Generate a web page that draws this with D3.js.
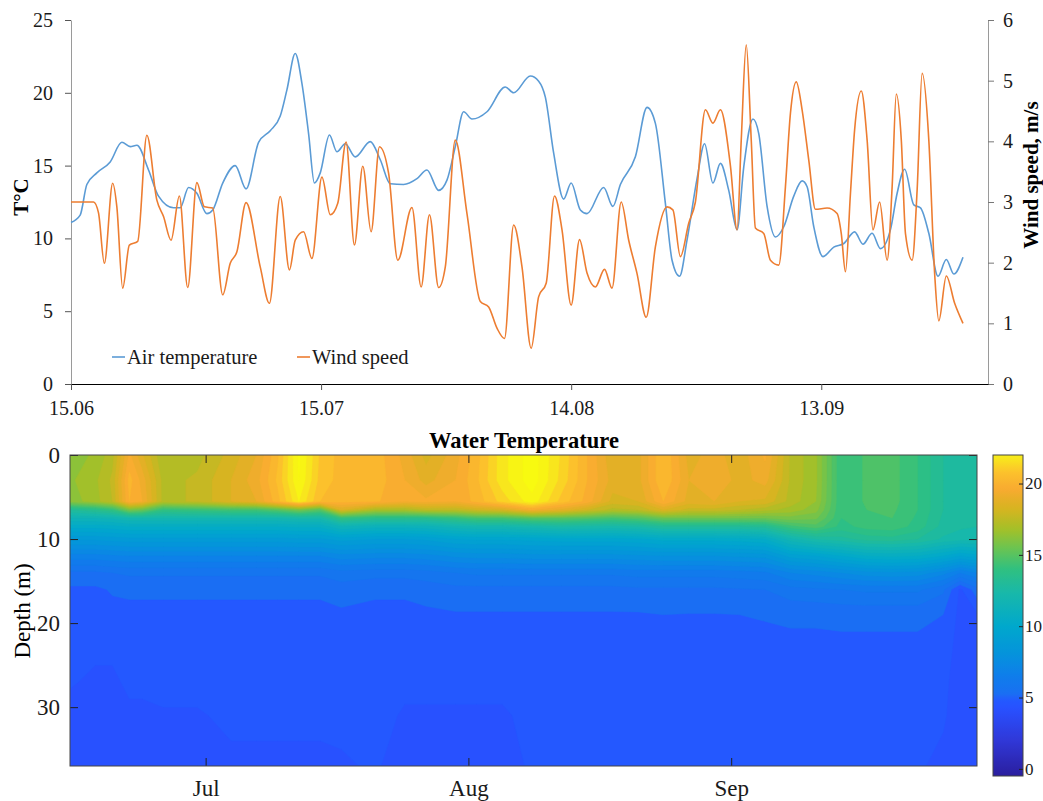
<!DOCTYPE html>
<html>
<head>
<meta charset="utf-8">
<script src="https://cdn.jsdelivr.net/npm/d3@7"></script>
<style>
  body { margin: 0; background: #fff; }
</style>
</head>
<body>
<svg id="chart" width="1043" height="801"></svg>
<script>
// ---- Data (days counted from 15.06) ----
let airDays = [0, 1.1, 1.9, 3.1, 4.7, 6.1, 7.1, 7.9, 9.3, 10.5, 12.3, 13.1, 14.1, 15.1, 16.3, 17, 18.2, 19.7, 21, 22.5,
  23.9, 25.1, 25.9, 26.9, 27.7, 28.5, 29.2, 29.9, 31, 31.9, 32.9, 34.1, 35.9, 37.1, 38.3, 39.9, 41.5, 42.7, 44.1, 45.1,
  46.1, 47.1, 48.1, 49.9, 52.1, 53.1, 55.1, 56.1, 56.9, 57.9, 59.1, 60, 61.1, 61.9, 63.9, 65, 65.9, 67.7, 69.1, 70.1,
  71.3, 72.1, 73, 73.9, 75.1, 76, 77, 77.9, 78.9, 79.9, 80.7, 81.8, 82.5, 83.5, 84.5, 85.5, 86.7, 87.7, 88.3, 89.1,
  90.2, 91.5, 92.7, 94, 95, 96.1, 97.1, 98.3, 99.1, 100, 101.1, 101.9, 102.9, 104, 105, 105.9, 107];
let airTemp = [11.1, 11.6, 13.7, 14.5, 15.25, 16.6, 16.3, 16.4, 14.7, 12.9, 12.1, 12.1, 13.5, 13.1, 11.7, 11.95, 13.8, 15.0, 13.4, 16.6,
  17.4, 18.4, 20.2, 22.7, 20.65, 17.2, 13.8, 14.5, 17.1, 15.95, 16.5, 15.6, 16.65, 15.4, 13.75, 13.7, 14.1, 14.7, 13.3, 14.0,
  16.3, 18.7, 18.2, 18.7, 20.4, 20.0, 21.15, 20.8, 19.7, 15.85, 12.7, 13.8, 11.95, 11.7, 13.5, 12.2, 13.7, 15.6, 19.0, 17.9,
  12.4, 8.5, 7.4, 9.9, 14.1, 16.5, 13.8, 15.15, 13.3, 10.6, 14.9, 18.2, 17.2, 12.2, 10.1, 10.8, 12.9, 13.95, 13.55, 10.8,
  8.75, 9.4, 9.65, 10.45, 9.6, 10.35, 9.3, 10.6, 13.1, 14.75, 12.3, 12.1, 10.35, 7.4, 8.55, 7.55, 8.7];

let windDays = [0, 2.7, 3.3, 4, 5, 5.5, 6.2, 7, 8, 9.1, 10.3, 11.1, 12, 13, 14, 15.1, 16, 17, 18.2, 19.1,
  19.9, 21, 22.7, 23.8, 25.1, 26.2, 26.9, 27.9, 28.9, 30.1, 31.1, 32, 33, 34, 35, 36, 37, 38.1, 39.2, 40.9,
  42, 43, 44.1, 44.9, 46.1, 47.5, 49.1, 50.1, 51.1, 52, 53.1, 54.1, 55.2, 56.1, 57, 58, 58.9, 60, 61, 61.9,
  62.9, 64, 64.9, 66, 66.9, 67.9, 69, 70.1, 71.5, 72.2, 73.1, 74.1, 74.9, 76.1, 77, 77.9, 79.1, 79.9, 80.4, 81,
  81.6, 82.1, 83.1, 83.9, 84.9, 85.7, 86.3, 87, 87.7, 88.5, 89.3, 90.7, 91.9, 92.4, 92.9, 93.5, 94, 94.8, 95.5, 96.2,
  97, 97.9, 98.5, 99, 99.6, 100.1, 100.9, 101.5, 102.1, 102.9, 103.6, 104.1, 105, 106, 107];
let windSpeed = [3.0, 3.0, 2.82, 1.99, 3.31, 2.92, 1.58, 2.29, 2.35, 4.1, 3.03, 2.76, 2.37, 3.1, 1.59, 3.32, 2.92, 2.9, 1.47, 1.99,
  2.18, 2.99, 1.93, 1.33, 3.09, 1.88, 2.37, 2.51, 2.07, 3.41, 2.79, 2.98, 3.99, 2.29, 3.59, 2.51, 3.91, 3.47, 2.04, 2.91,
  1.6, 2.79, 1.59, 1.93, 4.02, 2.81, 1.36, 1.27, 0.92, 0.75, 2.62, 1.93, 0.59, 1.44, 1.66, 3.1, 2.54, 1.3, 2.38, 1.83,
  1.6, 1.89, 1.58, 3.0, 2.37, 1.82, 1.1, 2.26, 2.92, 2.87, 2.1, 2.65, 3.0, 4.52, 4.3, 4.52, 3.6, 2.54, 4.02, 5.59,
  4.02, 2.57, 2.48, 2.04, 1.96, 3.25, 4.46, 4.98, 4.52, 3.69, 2.88, 2.9, 2.81, 2.48, 1.85, 3.14, 4.19, 4.83, 4.02, 2.54,
  3.0, 2.04, 3.25, 4.78, 4.02, 2.48, 2.04, 3.2, 5.12, 4.02, 1.82, 1.04, 1.78, 1.33, 1.0];

let topTickDays = [0, 30, 60, 90];           // 15.06, 15.07, 14.08, 13.09
let tempTicks = [0, 5, 10, 15, 20, 25];
let windTicks = [0, 1, 2, 3, 4, 5, 6];

// water temperature profiles: one profile per sampling day, values at wtDepths
let wtDays = [0, 3, 5, 7, 8.5, 11, 15, 19, 22, 24.5, 27, 29.5, 32, 36, 39.5, 42, 45.5, 48, 51, 54.5,
  58, 61, 64, 67, 70, 73, 76, 79, 82, 85, 88, 91, 94, 97, 100, 103, 105, 107];
let wtDepths = [0, 3, 5.5, 6.5, 7.5, 8.5, 10, 12, 14, 16, 19, 23, 27, 31, 37];
let waterTemp = [
  [16.2, 16.4, 16.2, 13.0, 11.5, 10.2, 8.6, 6.8, 5.4, 4.9, 4.8, 4.75, 4.55, 4.3, 4.3],
  [16.6, 16.9, 16.8, 13.5, 11.5, 10.2, 8.6, 6.8, 5.4, 4.9, 4.8, 4.6, 4.4, 4.3, 4.3],
  [17.3, 17.6, 17.5, 14.0, 11.6, 10.3, 8.7, 6.9, 5.5, 5.05, 4.85, 4.6, 4.4, 4.3, 4.3],
  [19.6, 20.2, 20.0, 15.8, 12.0, 10.5, 8.8, 7.0, 5.6, 5.1, 4.85, 4.7, 4.6, 4.4, 4.3],
  [18.6, 19.3, 19.5, 15.5, 12.0, 10.5, 8.8, 7.0, 5.6, 5.1, 4.85, 4.7, 4.6, 4.4, 4.3],
  [17.0, 17.3, 17.3, 14.0, 12.0, 10.5, 8.8, 7.0, 5.6, 5.1, 4.85, 4.75, 4.65, 4.45, 4.3],
  [17.3, 17.6, 17.6, 14.2, 12.0, 10.5, 8.8, 7.0, 5.6, 5.1, 4.85, 4.75, 4.65, 4.45, 4.3],
  [18.2, 18.5, 18.5, 14.5, 12.0, 10.5, 8.8, 7.0, 5.6, 5.1, 4.85, 4.75, 4.7, 4.6, 4.4],
  [19.0, 19.3, 19.0, 14.5, 12.0, 10.5, 8.8, 7.0, 5.6, 5.1, 4.85, 4.75, 4.7, 4.6, 4.4],
  [20.4, 20.6, 20.3, 15.0, 12.0, 10.5, 8.8, 7.0, 5.6, 5.1, 4.85, 4.75, 4.7, 4.6, 4.4],
  [22.6, 22.5, 22.0, 15.8, 12.2, 10.6, 8.9, 7.0, 5.6, 5.1, 4.85, 4.75, 4.7, 4.6, 4.4],
  [20.9, 20.8, 20.5, 15.0, 12.2, 10.6, 8.9, 7.0, 5.6, 5.1, 4.85, 4.75, 4.7, 4.6, 4.4],
  [20.3, 20.3, 20.2, 18.5, 14.0, 11.5, 9.2, 7.3, 5.8, 5.25, 4.9, 4.75, 4.7, 4.6, 4.45],
  [20.3, 20.3, 20.1, 17.0, 13.5, 11.2, 9.0, 7.2, 5.7, 5.1, 4.85, 4.75, 4.7, 4.65, 4.55],
  [19.3, 19.5, 19.5, 17.0, 13.5, 11.2, 9.0, 7.2, 5.7, 5.1, 4.85, 4.75, 4.6, 4.45, 4.3],
  [18.3, 18.8, 19.6, 17.5, 13.5, 11.3, 9.1, 7.3, 5.8, 5.2, 4.9, 4.75, 4.6, 4.45, 4.3],
  [19.3, 19.5, 19.5, 17.5, 14.0, 11.8, 9.5, 7.6, 6.0, 5.35, 4.95, 4.8, 4.6, 4.45, 4.3],
  [20.3, 20.4, 20.2, 18.0, 14.5, 12.0, 9.6, 7.7, 6.1, 5.35, 4.95, 4.8, 4.6, 4.45, 4.3],
  [21.8, 21.8, 21.2, 18.3, 14.5, 12.0, 9.6, 7.7, 6.1, 5.35, 4.95, 4.8, 4.6, 4.45, 4.35],
  [22.8, 22.8, 22.3, 19.5, 15.0, 12.2, 9.7, 7.8, 6.1, 5.35, 4.95, 4.8, 4.7, 4.6, 4.55],
  [21.4, 21.3, 20.8, 18.8, 15.0, 12.5, 9.8, 7.8, 6.1, 5.35, 4.95, 4.8, 4.7, 4.6, 4.55],
  [20.0, 20.0, 19.8, 18.0, 14.8, 12.4, 9.8, 7.8, 6.1, 5.35, 4.95, 4.8, 4.7, 4.6, 4.55],
  [18.6, 18.8, 18.3, 17.3, 14.5, 12.3, 9.8, 7.8, 6.1, 5.35, 4.95, 4.8, 4.7, 4.6, 4.55],
  [18.8, 18.8, 18.5, 17.5, 14.8, 12.5, 9.9, 7.9, 6.2, 5.4, 4.95, 4.8, 4.7, 4.6, 4.55],
  [20.5, 20.5, 20.0, 18.5, 15.5, 13.0, 10.2, 8.0, 6.2, 5.4, 5.0, 4.8, 4.7, 4.6, 4.55],
  [18.8, 19.0, 18.8, 17.8, 15.5, 13.0, 10.2, 8.0, 6.2, 5.4, 4.98, 4.8, 4.7, 4.6, 4.55],
  [19.2, 19.4, 19.0, 17.8, 15.5, 13.0, 10.2, 8.0, 6.2, 5.4, 4.98, 4.8, 4.7, 4.6, 4.55],
  [18.7, 18.8, 18.5, 17.5, 15.5, 13.0, 10.3, 8.1, 6.3, 5.45, 5.0, 4.8, 4.7, 4.6, 4.55],
  [19.6, 19.2, 18.4, 17.2, 15.5, 13.2, 10.5, 8.2, 6.4, 5.5, 5.05, 4.8, 4.7, 4.6, 4.55],
  [17.4, 17.4, 17.3, 16.8, 15.8, 14.3, 11.8, 9.2, 7.0, 5.8, 5.1, 4.85, 4.7, 4.6, 4.55],
  [16.6, 16.6, 16.5, 16.2, 15.6, 14.8, 12.5, 9.5, 7.2, 5.9, 5.1, 4.85, 4.7, 4.6, 4.55],
  [14.0, 14.0, 14.0, 14.0, 14.0, 13.8, 12.8, 10.0, 7.5, 6.0, 5.15, 4.85, 4.7, 4.6, 4.55],
  [14.6, 14.6, 14.6, 14.5, 14.4, 14.2, 13.2, 10.5, 7.8, 6.1, 5.15, 4.85, 4.7, 4.6, 4.55],
  [14.7, 14.7, 14.7, 14.6, 14.5, 14.3, 13.3, 10.6, 7.9, 6.1, 5.15, 4.85, 4.7, 4.6, 4.55],
  [14.0, 14.0, 14.0, 14.0, 13.9, 13.8, 13.0, 10.5, 7.8, 6.1, 5.15, 4.85, 4.7, 4.6, 4.55],
  [13.0, 13.0, 13.0, 13.0, 12.9, 12.8, 12.4, 10.0, 7.2, 5.6, 5.0, 4.75, 4.6, 4.55, 4.4],
  [12.8, 12.8, 12.8, 12.8, 12.7, 12.6, 12.2, 9.5, 6.5, 4.4, 4.35, 4.3, 4.3, 4.3, 4.3],
  [12.7, 12.7, 12.7, 12.7, 12.6, 12.5, 12.2, 9.8, 7.0, 5.3, 4.45, 4.35, 4.3, 4.3, 4.3]
];
let depthTicks = [0, 10, 20, 30];
let cbarTicks = [0, 5, 10, 15, 20];

// colour map (parula-like)
let cmapValues = [-0.5, 2.0, 4.2, 4.8, 5.3, 6.5, 8.0, 10.0, 12.3, 14.0, 15.5, 16.8, 18.2, 19.6, 20.8, 21.8, 22.5];
let cmapColors = ['#2a1e9e', '#3038d8', '#2850ff', '#2459ff', '#1970f2', '#0f7deb', '#0592dc', '#00a8cc', '#18b8aa',
  '#30c080', '#6cc450', '#a4c028', '#d6b420', '#f8aa30', '#fcc22c', '#f8e81c', '#f8fa10'];

// ---- Setup ----
const FONT = '"Liberation Serif", "Times New Roman", serif';
const start = new Date(2019, 5, 15);
let toDate = d => new Date(start.getTime() + d * 864e5);

const svg = d3.select('#chart');
const blue = '#5b9bd5', orange = '#ed7d31';

// ---- Top chart: air temperature & wind ----
let x1 = d3.scaleTime().domain([toDate(0), toDate(110)]).range([71, 988]);
let yT = d3.scaleLinear().domain([0, 25]).range([384, 20]);
let yW = d3.scaleLinear().domain([0, 6]).range([384, 20]);

let styleAxis = (g, lineCol, size) => {
  g.attr('font-family', FONT);
  g.selectAll('.tick line').attr('stroke', lineCol);
  g.selectAll('.tick text').attr('font-size', size).attr('fill', '#1a1a1a');
};

let gL = svg.append('g').attr('transform', 'translate(71,0)')
  .call(d3.axisLeft(yT).tickValues(tempTicks).tickSize(6).tickSizeOuter(0).tickPadding(12));
gL.select('.domain').attr('stroke', '#9a9a9a');
styleAxis(gL, '#555', 20);

let gR = svg.append('g').attr('transform', 'translate(988,0)')
  .call(d3.axisRight(yW).tickValues(windTicks).tickFormat(d3.format('d'))
    .tickSize(6).tickSizeOuter(0).tickPadding(9));
gR.select('.domain').attr('stroke', '#9a9a9a');
styleAxis(gR, '#777', 20);

let gB = svg.append('g').attr('transform', 'translate(0,384)')
  .call(d3.axisBottom(x1).tickValues(topTickDays.map(toDate)).tickFormat(d3.timeFormat('%d.%m'))
    .tickSize(6).tickSizeOuter(0).tickPadding(11));
gB.select('.domain').attr('stroke', '#000').attr('stroke-width', 1.2);
styleAxis(gB, '#555', 20);

let lineOf = (days, vals, yScale) => d3.line()
  .x((d, i) => x1(toDate(days[i])))
  .y(d => yScale(d))
  .curve(d3.curveMonotoneX)(vals);

svg.append('path').attr('d', lineOf(airDays, airTemp, yT))
  .attr('fill', 'none').attr('stroke', blue).attr('stroke-width', 1.6);
svg.append('path').attr('d', lineOf(windDays, windSpeed, yW))
  .attr('fill', 'none').attr('stroke', orange).attr('stroke-width', 1.6);

// legend
[[112, 'Air temperature', blue], [297, 'Wind speed', orange]].forEach(([lx, label, col]) => {
  svg.append('line').attr('x1', lx).attr('x2', lx + 13).attr('y1', 357).attr('y2', 357)
    .attr('stroke', col).attr('stroke-width', 1.6);
  svg.append('text').attr('x', lx + 15).attr('y', 364).attr('font-size', 20.5).attr('fill', '#1a1a1a').text(label);
});

svg.append('text').attr('transform', 'translate(21,197) rotate(-90)').attr('text-anchor', 'middle')
  .attr('dy', '0.35em').attr('font-size', 21).attr('font-weight', 'bold').text('T°C');
svg.append('text').attr('transform', 'translate(1031,175) rotate(-90)').attr('text-anchor', 'middle')
  .attr('dy', '0.35em').attr('font-size', 21).attr('font-weight', 'bold').text('Wind speed, m/s');

// ---- Bottom chart: water temperature contours ----
let x2 = d3.scaleTime().domain([toDate(0), toDate(107)]).range([70, 977]);
let yD = d3.scaleLinear().domain([0, 37]).range([455, 766]);
let color = d3.scaleLinear().domain(cmapValues).range(cmapColors).clamp(true);

const nC = wtDays.length, nR = wtDepths.length;
let grid = [];
for (let j = 0; j < nR; j++) for (let i = 0; i < nC; i++) grid.push(waterTemp[i][j]);

let levels = d3.range(3.5, 23.01, 0.5);
let contours = d3.contours().size([nC, nR]).thresholds(levels)(grid);

let colIdx = d3.scaleLinear().domain(d3.range(nC)).range(wtDays);
let rowIdx = d3.scaleLinear().domain(d3.range(nR)).range(wtDepths);
let proj = d3.geoTransform({
  point: function(px, py) {
    let gi = Math.max(0, Math.min(nC - 1, px - 0.5));
    let gj = Math.max(0, Math.min(nR - 1, py - 0.5));
    this.stream.point(x2(toDate(colIdx(gi))), yD(rowIdx(gj)));
  }
});
let path = d3.geoPath(proj);

svg.append('clipPath').attr('id', 'plotClip')
  .append('rect').attr('x', 70).attr('y', 455).attr('width', 907).attr('height', 311);

svg.append('g').attr('clip-path', 'url(#plotClip)')
  .selectAll('path').data(contours).enter().append('path')
    .attr('d', path)
    .attr('fill', d => color(d.value + 0.25))
    .attr('stroke', d => color(d.value + 0.25))
    .attr('stroke-width', 0.4);

// box and inward ticks
let monthTicks = [new Date(2019, 6, 1), new Date(2019, 7, 1), new Date(2019, 8, 1)];
let gx = svg.append('g').attr('transform', 'translate(0,766)')
  .call(d3.axisBottom(x2).tickValues(monthTicks).tickFormat(d3.timeFormat('%b')).tickSize(-8).tickPadding(14));
gx.select('.domain').remove();
styleAxis(gx, '#222', 23);
let gxt = svg.append('g').attr('transform', 'translate(0,455)')
  .call(d3.axisTop(x2).tickValues(monthTicks).tickFormat('').tickSize(-8));
gxt.select('.domain').remove();
gxt.selectAll('.tick line').attr('stroke', '#222');

let gy = svg.append('g').attr('transform', 'translate(70,0)')
  .call(d3.axisLeft(yD).tickValues(depthTicks).tickSize(-8).tickPadding(10));
gy.select('.domain').remove();
styleAxis(gy, '#222', 23);
let gyr = svg.append('g').attr('transform', 'translate(977,0)')
  .call(d3.axisRight(yD).tickValues(depthTicks).tickFormat('').tickSize(-8));
gyr.select('.domain').remove();
gyr.selectAll('.tick line').attr('stroke', '#222');

svg.append('rect').attr('x', 70).attr('y', 455).attr('width', 907).attr('height', 311)
  .attr('fill', 'none').attr('stroke', '#444').attr('stroke-width', 1);

svg.append('text').attr('x', 524).attr('y', 448).attr('text-anchor', 'middle')
  .attr('font-size', 22.5).attr('font-weight', 'bold').text('Water Temperature');
svg.append('text').attr('transform', 'translate(22,611) rotate(-90)').attr('text-anchor', 'middle')
  .attr('dy', '0.35em').attr('font-size', 23).text('Depth (m)');

// ---- Colour bar ----
let cbY = d3.scaleLinear().domain([-0.5, 22]).range([776, 455]);
let grad = svg.append('defs').append('linearGradient').attr('id', 'cbGrad')
  .attr('x1', 0).attr('y1', 1).attr('x2', 0).attr('y2', 0);
d3.range(-0.5, 22.01, 0.25).forEach(v => {
  grad.append('stop').attr('offset', (v + 0.5) / 22.5).attr('stop-color', color(v));
});
svg.append('rect').attr('x', 993).attr('y', 455).attr('width', 30).attr('height', 321)
  .attr('fill', 'url(#cbGrad)').attr('stroke', '#444').attr('stroke-width', 1);

let gc = svg.append('g').attr('transform', 'translate(1023,0)')
  .call(d3.axisRight(cbY).tickValues(cbarTicks).tickSize(-4).tickPadding(2));
gc.select('.domain').remove();
styleAxis(gc, '#222', 17);

svg.selectAll('text').style('font-family', FONT);
</script>
</body>
</html>
